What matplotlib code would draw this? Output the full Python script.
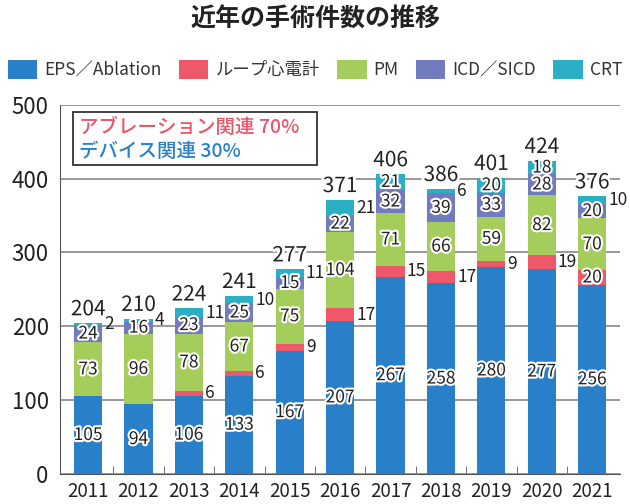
import numpy as np
import matplotlib.pyplot as plt
import matplotlib.patheffects as pe
from matplotlib.patches import Rectangle

plt.rcParams['font.family'] = ['Noto Sans CJK JP', 'DejaVu Sans']

# データ
years = ['2011', '2012', '2013', '2014', '2015', '2016', '2017', '2018', '2019', '2020', '2021']
eps = [105, 94, 106, 133, 167, 207, 267, 258, 280, 277, 256]
loop = [0, 0, 6, 6, 9, 17, 15, 17, 9, 19, 20]
pm = [73, 96, 78, 67, 75, 104, 71, 66, 59, 82, 70]
icd = [24, 16, 23, 25, 15, 22, 32, 39, 33, 28, 20]
crt = [2, 4, 11, 10, 11, 21, 21, 6, 20, 18, 10]

names = ['EPS／Ablation', 'ループ心電計', 'PM', 'ICD／SICD', 'CRT']
colors = ['#2a80c8', '#ef5868', '#a4cd5c', '#717bbd', '#2aafc5']
series = [eps, loop, pm, icd, crt]

# 棒の外に出すラベル (系列番号, 年の番号)
outside = {(1, 2), (1, 3), (1, 4), (1, 5), (1, 6), (1, 7), (1, 8), (1, 9),
           (4, 0), (4, 1), (4, 2), (4, 3), (4, 4), (4, 5), (4, 7), (4, 10)}

fig = plt.figure(figsize=(6.3, 5.04), dpi=100)
ax = fig.add_axes([0.095, 0.06, 0.889, 0.732])

x = np.arange(len(years))
w = 0.56
halo = [pe.withStroke(linewidth=3, foreground='white')]
bottom = np.zeros(len(years))
for si, (vals, name, c) in enumerate(zip(series, names, colors)):
    vals = np.array(vals)
    ax.bar(x, vals, w, bottom=bottom, color=c, label=name, zorder=3)
    for i, v in enumerate(vals):
        if v == 0:
            continue
        yc = bottom[i] + v / 2
        if (si, i) in outside:
            ax.text(x[i] + w / 2 + 0.04, yc, str(v), ha='left', va='center',
                    fontsize=12.5, color='#222222', zorder=5)
        else:
            ax.text(x[i], yc, str(v), ha='center', va='center', fontsize=12.5,
                    color='#222222', path_effects=halo, zorder=5)
    bottom += vals

totals = bottom
for i, t in enumerate(totals):
    ax.text(x[i], t + 4, str(int(t)), ha='center', va='bottom', fontsize=15,
            color='#222222', path_effects=[pe.withStroke(linewidth=4, foreground='white')],
            zorder=5)

ax.set_xlim(-0.56, 10.55)
ax.set_ylim(0, 500)
ax.set_yticks([0, 100, 200, 300, 400, 500])
ax.set_xticks(x)
ax.set_xticklabels(years)
ax.set_xticks(x[:-1] + 0.5, minor=True)
ax.tick_params(axis='x', which='major', length=0, labelsize=13.5, pad=5, colors='#222222')
ax.tick_params(axis='x', which='minor', direction='in', length=6, color='#555555')
ax.tick_params(axis='y', length=0, labelsize=16, pad=8, colors='#222222')
ax.grid(axis='y', color='#888888', linewidth=1.2, zorder=0)
for s in ['top', 'right']:
    ax.spines[s].set_visible(False)
ax.spines['left'].set_color('#555555')
ax.spines['bottom'].set_color('#555555')

# 注記ボックス
ax.add_patch(Rectangle((-0.3, 418), 4.85, 72, facecolor='white', edgecolor='#333333',
                       linewidth=1.3, zorder=4))
ax.text(-0.18, 469, 'アブレーション関連 70%', color='#e9566a', fontsize=14,
        fontweight='medium', va='center', zorder=5)
ax.text(-0.18, 437, 'デバイス関連 30%', color='#2a80c8', fontsize=14,
        fontweight='medium', va='center', zorder=5)

fig.text(0.5, 0.962, '近年の手術件数の推移', ha='center', va='center',
         fontsize=18, fontweight='bold', color='#222222')
fig.legend(loc='center', bbox_to_anchor=(0.5, 0.862), ncol=5, frameon=False,
           fontsize=12.5, handlelength=1.7, handleheight=1.3, handletextpad=0.4,
           columnspacing=1.0, labelcolor='#333333')

fig.savefig('out.png', dpi=100)
